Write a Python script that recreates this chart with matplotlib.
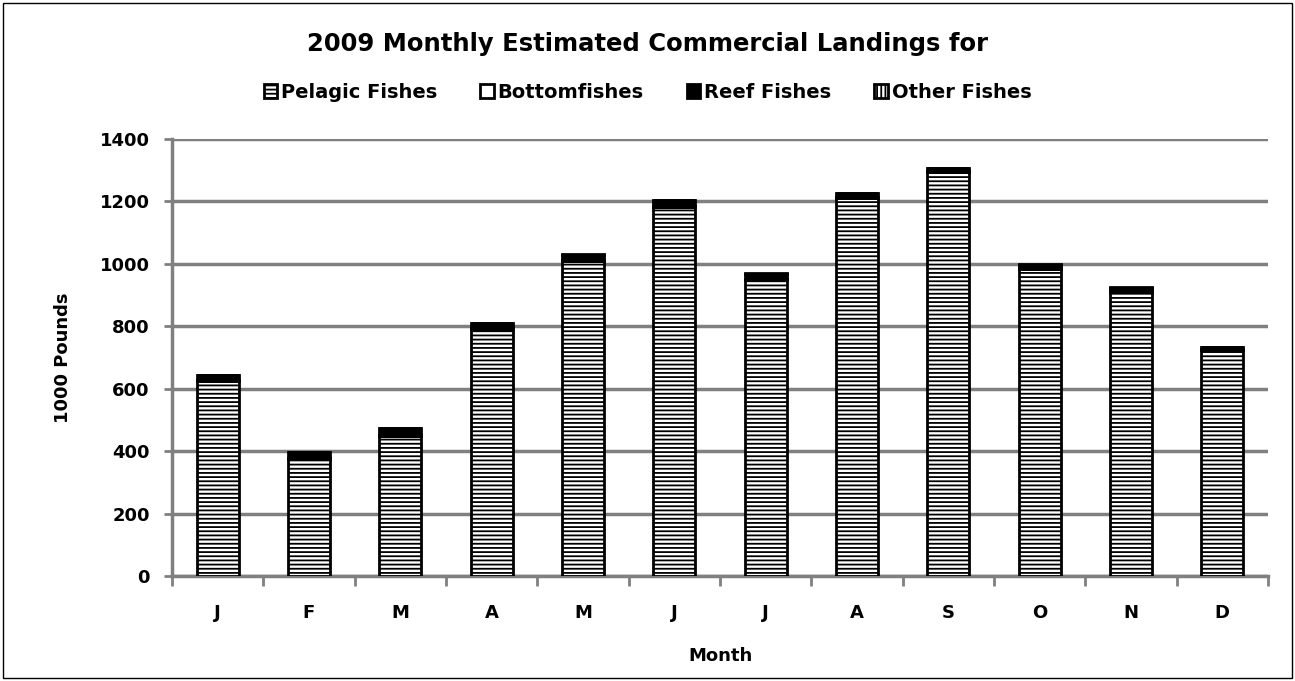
import matplotlib.pyplot as plt
import numpy as np
from matplotlib.patches import Rectangle

# Data (1000 pounds)
months = ['J', 'F', 'M', 'A', 'M', 'J', 'J', 'A', 'S', 'O', 'N', 'D']
pelagic = [625, 375, 450, 792, 1008, 1182, 948, 1212, 1294, 984, 911, 724]
bottom = [3, 3, 3, 2, 3, 3, 2, 3, 3, 3, 3, 2]
reef = [15, 18, 20, 15, 18, 18, 18, 12, 10, 10, 10, 8]
other = [2, 2, 2, 1, 1, 2, 2, 1, 1, 1, 1, 1]

series = [('Pelagic Fishes', pelagic, 'white', '----'),
          ('Bottomfishes', bottom, 'white', None),
          ('Reef Fishes', reef, 'black', None),
          ('Other Fishes', other, 'white', '||||')]

plt.rcParams['font.family'] = 'DejaVu Sans'
plt.rcParams['font.weight'] = 'bold'
plt.rcParams['hatch.linewidth'] = 1.3

W, H = 1295, 681
fig = plt.figure(figsize=(W / 100, H / 100), dpi=100)
ax = fig.add_axes([172 / W, (H - 576) / H, (1268 - 172) / W, (576 - 139) / H])

x = np.arange(len(months))
bottoms = np.zeros(len(months))
handles = []
for name, vals, color, hatch in series:
    b = ax.bar(x, vals, width=0.46, bottom=bottoms, color=color, hatch=hatch,
               edgecolor='black', linewidth=2, zorder=3, label=name)
    bottoms += np.array(vals)
    handles.append(b)

ax.set_ylim(0, 1400)
ax.set_yticks(np.arange(0, 1401, 200))
ax.set_xlim(-0.5, len(months) - 0.5)
ax.set_xticks(x)
ax.set_xticklabels(months)
ax.set_xticks(np.arange(-0.5, len(months), 1), minor=True)
ax.tick_params(axis='x', which='major', length=0, pad=20, labelsize=13)
ax.tick_params(axis='x', which='minor', length=7, width=2, color='#808080')
ax.tick_params(axis='y', length=6, width=2, color='#808080', labelsize=13, pad=10)
ax.grid(axis='y', color='#808080', linewidth=2.5, zorder=0)
for s in ['top', 'right']:
    ax.spines[s].set_visible(False)
for s in ['left', 'bottom']:
    ax.spines[s].set_color('#808080')
    ax.spines[s].set_linewidth(2.5)

ax.set_ylabel('1000 Pounds', fontsize=13, fontweight='bold', labelpad=20)
ax.set_xlabel('Month', fontsize=13, fontweight='bold', labelpad=18)

fig.text(0.5, 1 - 44 / H, '2009 Monthly Estimated Commercial Landings for',
         ha='center', va='center', fontsize=17.5, fontweight='bold')
fig.legend(handles=handles, loc='center', bbox_to_anchor=(0.5, 1 - 92 / H),
           ncol=4, frameon=False, fontsize=14, handlelength=0.7,
           handleheight=0.7, handletextpad=0.2, columnspacing=2.2)

fig.patches.append(Rectangle((3 / W, 3 / H), 1 - 6 / W, 1 - 6 / H,
                             transform=fig.transFigure, fill=False,
                             edgecolor='black', linewidth=1))

fig.savefig('out.png', dpi=100)
